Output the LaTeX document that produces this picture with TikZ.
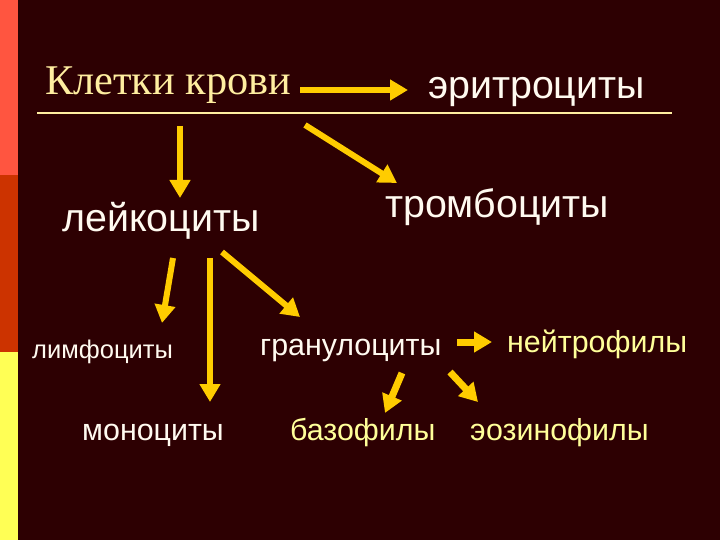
\documentclass[tikz,border=0pt]{standalone}
\usepackage{fontspec}
\usepackage{tikz}
\usetikzlibrary{arrows.meta}
\setmainfont{Liberation Sans}
\newfontfamily\titlefont{Liberation Serif}
\definecolor{slidebg}{RGB}{45,0,2}
\definecolor{stripetop}{RGB}{255,85,64}
\definecolor{stripemid}{RGB}{204,51,0}
\definecolor{stripelow}{RGB}{255,255,85}
\definecolor{titlecol}{RGB}{255,238,160}
\definecolor{cellwhite}{RGB}{255,250,240}
\definecolor{cellyellow}{RGB}{255,255,153}
\definecolor{arrowcol}{RGB}{255,204,0}

\begin{document}
\begin{tikzpicture}[x=1bp,y=-1bp]
        \tikzset{CellStyle/.style={anchor=base west, inner sep=0pt,
            text=cellwhite, font=\fontsize{39.5}{44}\selectfont}}
        \tikzset{SubStyle/.style={CellStyle, font=\fontsize{30.5}{34}\selectfont}}
        \tikzset{ArrowStyle/.style={draw=arrowcol, line width=6bp,
            -{Triangle[width=20bp,length=18bp]}}}
        \tikzset{ShortArrowStyle/.style={ArrowStyle, line width=7bp}}

        % background and side stripe
        \useasboundingbox (0,0) rectangle (720,540);
        \fill[slidebg] (0,0) rectangle (720,540);
        \fill[stripetop] (0,0) rectangle (18,175);
        \fill[stripemid] (0,175) rectangle (18,352);
        \fill[stripelow] (0,352) rectangle (18,540);
        \draw[titlecol, line width=2.5bp] (37,113) -- (672,113);

        % cells
        \node[CellStyle, text=titlecol, font=\titlefont\fontsize{42.5}{46}\selectfont]
          (kletki) at (45,95) {Клетки крови};
        \node[CellStyle] (erit) at (428,99) {эритроциты};
        \node[CellStyle] (leik) at (62,232) {лейкоциты};
        \node[CellStyle] (tromb) at (385,218) {тромбоциты};
        \node[SubStyle, font=\fontsize{25.6}{29}\selectfont] (limf) at (32,358) {лимфоциты};
        \node[SubStyle] (mono) at (82,440) {моноциты};
        \node[SubStyle] (granul) at (260,355) {гранулоциты};
        \node[SubStyle, text=cellyellow] (neitr) at (507,352) {нейтрофилы};
        \node[SubStyle, text=cellyellow] (bazo) at (290,440) {базофилы};
        \node[SubStyle, text=cellyellow] (eozin) at (470,440) {эозинофилы};

        % arrow ends
        \coordinate (kletki-out) at (300,90);
        \coordinate (erit-in) at (408,90);
        \coordinate (kletki-down) at (180,126);
        \coordinate (leik-in) at (180,198);
        \coordinate (kletki-diag) at (305,125);
        \coordinate (tromb-in) at (397,183);
        \coordinate (leik-l) at (173,258);
        \coordinate (limf-in) at (162,323);
        \coordinate (leik-m) at (210,258);
        \coordinate (mono-in) at (210,402);
        \coordinate (leik-r) at (222,252);
        \coordinate (granul-in) at (300,317);
        \coordinate (granul-r) at (457,342);
        \coordinate (neitr-in) at (492,342);
        \coordinate (granul-l) at (402,373);
        \coordinate (bazo-in) at (385,413);
        \coordinate (granul-d) at (450,372);
        \coordinate (eozin-in) at (478,402);

        \draw[ArrowStyle] (kletki-out) -- (erit-in);
        \draw[ArrowStyle] (kletki-down) -- (leik-in);
        \draw[ArrowStyle] (kletki-diag) -- (tromb-in);
        \draw[ArrowStyle] (leik-l) -- (limf-in);
        \draw[ArrowStyle] (leik-m) -- (mono-in);
        \draw[ArrowStyle] (leik-r) -- (granul-in);
        \draw[ShortArrowStyle] (granul-r) -- (neitr-in);
        \draw[ShortArrowStyle] (granul-l) -- (bazo-in);
        \draw[ShortArrowStyle] (granul-d) -- (eozin-in);
      \end{tikzpicture}
\end{document}
